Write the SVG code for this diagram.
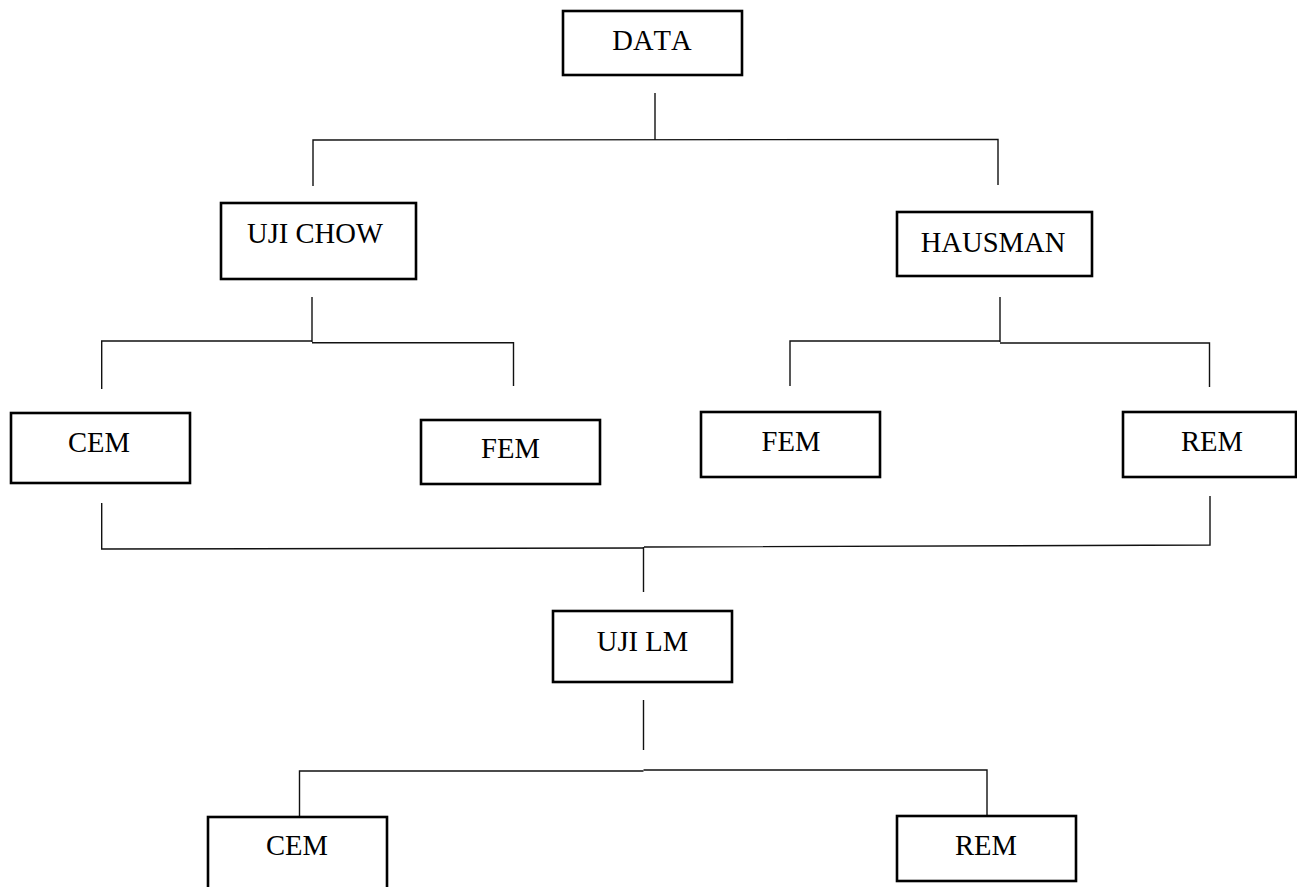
<svg xmlns="http://www.w3.org/2000/svg" width="1297" height="887" viewBox="0 0 1297 887">
<style>
.box{fill:#fff;stroke:#000;stroke-width:2.6}
.lbl{font-family:"Liberation Serif","Times New Roman",serif;font-size:28.6px;fill:#000;text-anchor:middle;font-kerning:none}
.con{fill:none;stroke:#111;stroke-width:1.4}
</style>
<rect width="1297" height="887" fill="#fff"/>
<g id="connectors">
<polyline class="con" points="655,93 655,140"/>
<polyline class="con" points="313,186 313,140 998,139.5 998,185"/>
<polyline class="con" points="312,297 312,342"/>
<polyline class="con" points="101.7,389 101.7,341 312,341"/>
<polyline class="con" points="312,342.7 513.5,342.7 513.5,386"/>
<polyline class="con" points="1000,297 1000,342"/>
<polyline class="con" points="790,386 790,341 1000,341"/>
<polyline class="con" points="1000,343 1209.5,343 1209.5,387"/>
<polyline class="con" points="101.7,503 101.7,549 644,548"/>
<polyline class="con" points="644,547 1210,545 1210,496"/>
<polyline class="con" points="643.5,547 643.5,592"/>
<polyline class="con" points="643.5,700 643.5,750"/>
<polyline class="con" points="299.5,817 299.5,771 643.5,771"/>
<polyline class="con" points="643.5,770 987,770 987,816"/>
</g>
<g id="node-data"><rect class="box" x="563" y="11" width="179" height="64"/><text class="lbl" x="652" y="50">DATA</text></g>
<g id="node-ujichow"><rect class="box" x="221" y="203" width="195" height="76"/><text class="lbl" x="315" y="243">UJI CHOW</text></g>
<g id="node-hausman"><rect class="box" x="897" y="212" width="195" height="64"/><text class="lbl" x="993" y="252">HAUSMAN</text></g>
<g id="node-cem1"><rect class="box" x="11" y="413" width="179" height="70"/><text class="lbl" x="99" y="452">CEM</text></g>
<g id="node-fem1"><rect class="box" x="421" y="420" width="179" height="64"/><text class="lbl" x="510.5" y="458">FEM</text></g>
<g id="node-fem2"><rect class="box" x="701" y="412" width="179" height="65"/><text class="lbl" x="791" y="451">FEM</text></g>
<g id="node-rem1"><rect class="box" x="1123" y="412" width="173" height="65"/><text class="lbl" x="1212" y="451">REM</text></g>
<g id="node-ujilm"><rect class="box" x="553" y="611" width="179" height="71"/><text class="lbl" x="642.5" y="651">UJI LM</text></g>
<g id="node-cem2"><rect class="box" x="208" y="817" width="179" height="75"/><text class="lbl" x="297" y="855">CEM</text></g>
<g id="node-rem2"><rect class="box" x="897" y="816" width="179" height="65"/><text class="lbl" x="986" y="855">REM</text></g>
</svg>
